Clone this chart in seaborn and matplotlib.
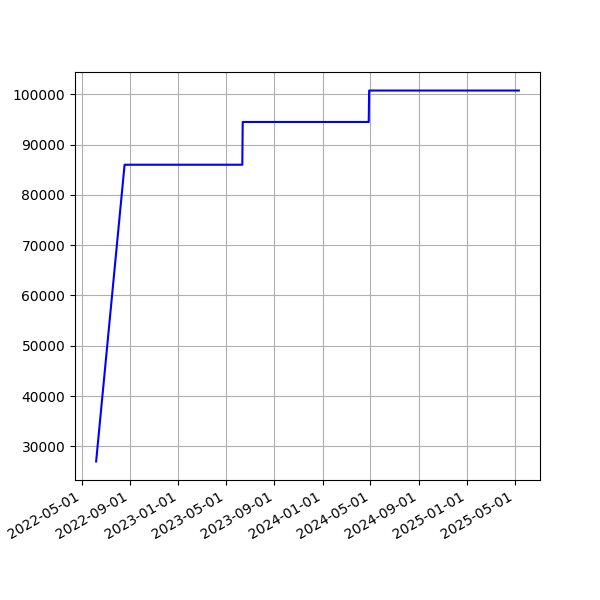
import matplotlib
matplotlib.use("Agg")
import matplotlib.dates as mdates
import matplotlib.pyplot as plt
import pandas as pd
import seaborn as sns

# Wartości (schodkowy przebieg)
dates = ["2022-06-07", "2022-08-18", "2023-06-12", "2023-06-13",
         "2024-04-27", "2024-04-28", "2025-05-12"]
values = [27000, 86000, 86000, 94500, 94500, 100750, 100750]

df = pd.DataFrame({"Data": pd.to_datetime(dates), "Wartosc": values})

fig, ax = plt.subplots(figsize=(6, 6), dpi=100)
sns.lineplot(data=df, x="Data", y="Wartosc", color="blue", ax=ax)
ax.set_xlabel("")
ax.set_ylabel("")
ax.xaxis.set_major_locator(mdates.MonthLocator(bymonth=[1, 5, 9]))
ax.xaxis.set_major_formatter(mdates.DateFormatter("%Y-%m-%d"))
ax.grid(True)
fig.autofmt_xdate()
fig.savefig("out.png", dpi=100)
plt.close(fig)
